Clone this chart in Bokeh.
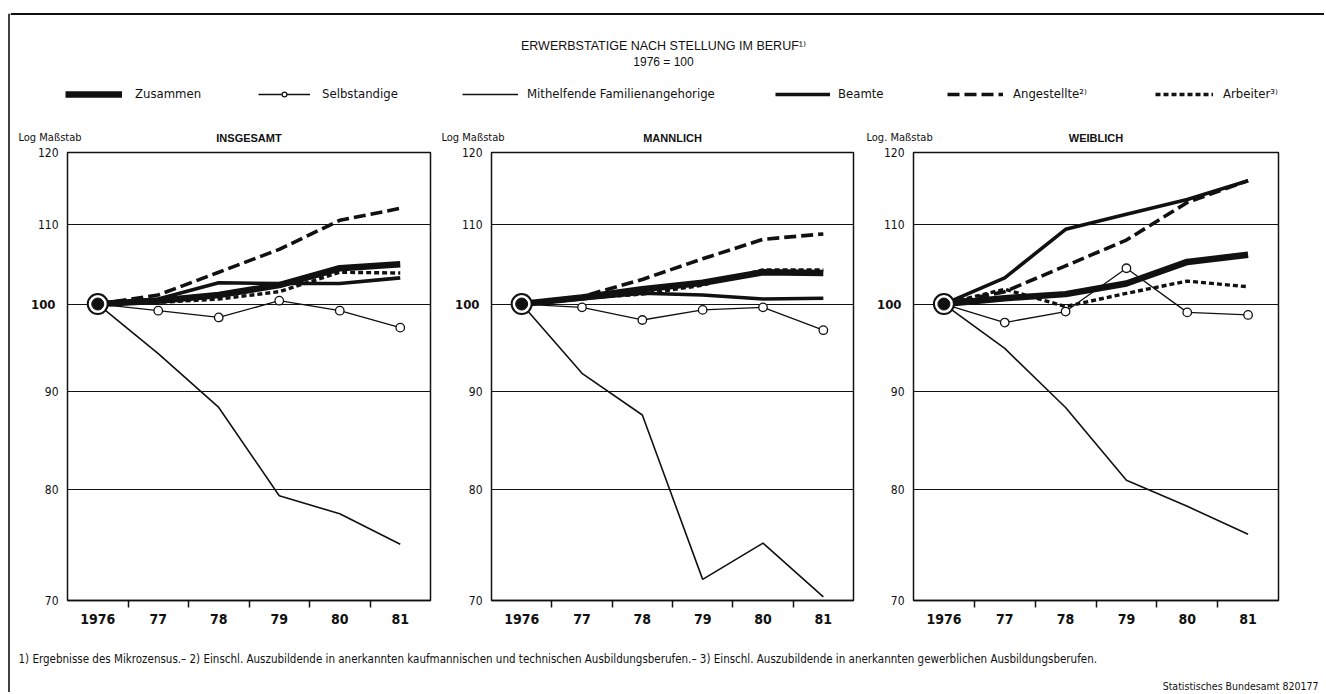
from bokeh.plotting import figure
from bokeh.models import FixedTicker, Label, Legend, LegendItem, Range1d, Span, LinearAxis, Spacer
from bokeh.layouts import column, row
from bokeh.embed import file_html
from bokeh.resources import INLINE

# ---------------- data ----------------
years = [1976, 1977, 1978, 1979, 1980, 1981]
year_labels = ["1976", "77", "78", "79", "80", "81"]
y_ticks = [70, 80, 90, 100, 110, 120]
grid_values = [80, 90, 100, 110]

series_names = ["Zusammen", "Selbstandige", "Mithelfende Familienangehorige",
                "Beamte", "Angestellte²⁾", "Arbeiter³⁾"]
panel_titles = ["INSGESAMT", "MANNLICH", "WEIBLICH"]
scale_labels = ["Log Maßstab", "Log  Maßstab", "Log. Maßstab"]

insg_zusammen = [100, 100.4, 101.1, 102.3, 104.4, 104.9]
insg_selbst = [100, 99.2, 98.4, 100.4, 99.2, 97.2]
insg_mithelf = [100, 94.2, 88.3, 79.4, 77.7, 74.9]
insg_beamte = [100, 100.6, 102.6, 102.5, 102.5, 103.2]
insg_angest = [100, 101.1, 103.9, 106.8, 110.6, 112.2]
insg_arbeit = [100, 100.2, 100.6, 101.5, 103.9, 103.8]

mann_zusammen = [100, 100.8, 101.8, 102.6, 103.9, 103.8]
mann_selbst = [100, 99.6, 98.1, 99.3, 99.6, 96.9]
mann_mithelf = [100, 92.0, 87.5, 71.8, 75.0, 70.3]
mann_beamte = [100, 100.6, 101.3, 101.1, 100.6, 100.7]
mann_angest = [100, 100.9, 103.0, 105.6, 108.1, 108.8]
mann_arbeit = [100, 100.7, 101.2, 102.3, 104.2, 104.2]

weib_zusammen = [100, 100.7, 101.2, 102.5, 105.2, 106.1]
weib_selbst = [100, 97.8, 99.1, 104.4, 99.0, 98.7]
weib_mithelf = [100, 94.8, 88.3, 80.9, 78.4, 75.8]
weib_beamte = [100, 103.2, 109.4, 111.4, 113.4, 116.0]
weib_angest = [100, 101.5, 104.7, 108.0, 113.0, 116.0]
weib_arbeit = [100, 101.8, 99.7, 101.3, 102.8, 102.1]

title_text = "ERWERBSTATIGE NACH STELLUNG IM BERUF¹⁾"
subtitle_text = "1976 = 100"
footnote_text = ("1) Ergebnisse des Mikrozensus.– 2) Einschl. Auszubildende in anerkannten "
                 "kaufmannischen und technischen Ausbildungsberufen.– 3) Einschl. Auszubildende "
                 "in anerkannten gewerblichen Ausbildungsberufen.")
source_text = "Statistisches Bundesamt 820177"

# ---------------- styles / geometry ----------------
NARROW = "Liberation Sans Narrow, DejaVu Sans Condensed, Liberation Sans, sans-serif"
WIDE = "Liberation Sans, DejaVu Sans, sans-serif"
BLACK = "#111111"
NAN = float("nan")

styles = {
    "Zusammen": dict(line_width=6.5, line_dash="solid"),
    "Selbstandige": dict(line_width=1.3, line_dash="solid"),
    "Mithelfende": dict(line_width=1.6, line_dash="solid"),
    "Beamte": dict(line_width=3.6, line_dash="solid"),
    "Angestellte": dict(line_width=3.6, line_dash="12 5"),
    "Arbeiter": dict(line_width=3.4, line_dash="5 3"),
}

STRIP_W = 10            # left strip carrying the page's left rule
HEAD_H = 145            # header: title, legend, panel captions
FRAME_TOP = 7           # space above each panel frame
FRAME_BOTTOM = 32
PANEL_H = 487
FOOT_H = 60
TOTAL_W = 1314

X_RANGE = (1975.5, 1981.5)
panel_widths = [430, 424, 454]
panel_left = [57, 51, 49]
panel_right = [10, 11, 40]
scale_label_shift = [49, 50, 47]


def make_panel(zus, selb, mith, beam, ange, arbe, width, left, right):
    p = figure(width=width, height=PANEL_H,
               x_range=Range1d(*X_RANGE), y_range=Range1d(70, 120),
               y_axis_type="log", output_backend="svg", toolbar_location=None,
               min_border_left=left, min_border_right=right,
               min_border_top=FRAME_TOP, min_border_bottom=FRAME_BOTTOM)
    p.outline_line_color = BLACK
    p.outline_line_width = 1.5
    p.background_fill_color = "white"
    p.border_fill_color = "white"

    p.xgrid.visible = False
    p.ygrid.ticker = FixedTicker(ticks=grid_values)
    p.ygrid.grid_line_color = BLACK
    p.ygrid.grid_line_width = 1.2

    xa = p.xaxis[0]
    xa.ticker = FixedTicker(ticks=years, minor_ticks=[y + 0.5 for y in years[:-1]])
    xa.major_label_overrides = {y: l for y, l in zip(years, year_labels)}
    xa.major_tick_in = 0
    xa.major_tick_out = 0
    xa.minor_tick_in = 0
    xa.minor_tick_out = 7
    xa.minor_tick_line_width = 1.5
    xa.minor_tick_line_color = BLACK
    xa.axis_line_color = BLACK
    xa.axis_line_width = 1.5
    xa.major_label_standoff = 6
    xa.major_label_text_font = NARROW
    xa.major_label_text_font_style = "bold"
    xa.major_label_text_font_size = "14px"
    xa.major_label_text_color = BLACK

    ya = p.yaxis[0]
    ya.ticker = FixedTicker(ticks=y_ticks)
    ya.major_label_overrides = {v: ("" if v == 100 else str(v)) for v in y_ticks}
    ya.major_tick_in = 0
    ya.major_tick_out = 0
    ya.minor_tick_in = 0
    ya.minor_tick_out = 0
    ya.axis_line_color = None
    ya.major_label_standoff = 9
    ya.major_label_text_font = NARROW
    ya.major_label_text_font_size = "12px"
    ya.major_label_text_color = BLACK

    # bold "100" on a second left axis, pulled back next to the frame
    ax100 = LinearAxis(ticker=FixedTicker(ticks=[100]), major_label_overrides={100: "100"})
    ax100.major_tick_in = 0
    ax100.major_tick_out = 0
    ax100.minor_tick_in = 0
    ax100.minor_tick_out = 0
    ax100.axis_line_color = None
    ax100.major_label_standoff = -21
    ax100.major_label_text_font = NARROW
    ax100.major_label_text_font_size = "13px"
    ax100.major_label_text_font_style = "bold"
    ax100.major_label_text_color = BLACK
    p.add_layout(ax100, "left")

    p.line(years, mith, line_color=BLACK, **styles["Mithelfende"])
    p.line(years, selb, line_color=BLACK, **styles["Selbstandige"])
    p.scatter(years, selb, size=8.5, marker="circle", fill_color="white",
              line_color=BLACK, line_width=1.3)
    p.line(years, arbe, line_color=BLACK, **styles["Arbeiter"])
    p.line(years, ange, line_color=BLACK, **styles["Angestellte"])
    p.line(years, beam, line_color=BLACK, **styles["Beamte"])
    p.line(years, zus, line_color=BLACK, line_join="round", **styles["Zusammen"])
    p.scatter(years[:1], zus[:1], size=20, marker="circle", fill_color="white",
              line_color=BLACK, line_width=2)
    p.scatter(years[:1], zus[:1], size=12, marker="circle", fill_color=BLACK,
              line_color=BLACK)
    return p


p1 = make_panel(insg_zusammen, insg_selbst, insg_mithelf, insg_beamte, insg_angest,
                insg_arbeit, panel_widths[0], panel_left[0], panel_right[0])
p2 = make_panel(mann_zusammen, mann_selbst, mann_mithelf, mann_beamte, mann_angest,
                mann_arbeit, panel_widths[1], panel_left[1], panel_right[1])
p3 = make_panel(weib_zusammen, weib_selbst, weib_mithelf, weib_beamte, weib_angest,
                weib_arbeit, panel_widths[2], panel_left[2], panel_right[2])

# ---------------- header (rule, title, legend, panel captions) ----------------
head = figure(width=TOTAL_W, height=HEAD_H, x_range=Range1d(0, TOTAL_W),
              y_range=Range1d(HEAD_H, 0), output_backend="svg", toolbar_location=None,
              min_border=0, x_axis_location=None, y_axis_location=None)
head.grid.visible = False
head.outline_line_color = None
head.border_fill_color = "white"
head.background_fill_color = "white"
head.add_layout(Span(location=13.5, dimension="width", line_color=BLACK, line_width=2))

head.add_layout(Label(x=653, y=45, text=title_text, text_align="center",
                      text_baseline="middle", text_font=WIDE, text_font_size="12.5px",
                      text_color=BLACK))
head.add_layout(Label(x=653, y=61, text=subtitle_text, text_align="center",
                      text_baseline="middle", text_font=WIDE, text_font_size="12px",
                      text_color=BLACK))

# panel captions, positioned from the panel geometry
x0 = 0
for i in range(3):
    f_left = x0 + panel_left[i]
    f_right = x0 + panel_widths[i] - panel_right[i]
    head.add_layout(Label(x=(f_left + f_right) / 2, y=137, text=panel_titles[i],
                          text_align="center", text_baseline="middle", text_font=WIDE,
                          text_font_size="11px", text_font_style="bold", text_color=BLACK))
    head.add_layout(Label(x=f_left - scale_label_shift[i], y=137, text=scale_labels[i],
                          text_align="left", text_baseline="middle", text_font=NARROW,
                          text_font_size="11px", text_color=BLACK))
    x0 += panel_widths[i]

r_zus = head.line([NAN], [NAN], line_color=BLACK, **styles["Zusammen"])
r_sel = head.line([NAN], [NAN], line_color=BLACK, **styles["Selbstandige"])
r_sel_m = head.scatter([NAN], [NAN], size=7, marker="circle", fill_color="white",
                       line_color=BLACK, line_width=1.2)
r_mit = head.line([NAN], [NAN], line_color=BLACK, **styles["Mithelfende"])
r_bea = head.line([NAN], [NAN], line_color=BLACK, **styles["Beamte"])
r_ang = head.line([NAN], [NAN], line_color=BLACK, **styles["Angestellte"])
r_arb = head.line([NAN], [NAN], line_color=BLACK, **styles["Arbeiter"])

legend_specs = [
    (series_names[0], [r_zus], 55, 57, 13),
    (series_names[1], [r_sel, r_sel_m], 248, 52, 12),
    (series_names[2], [r_mit], 452, 56, 9),
    (series_names[3], [r_bea], 765, 55, 8),
    (series_names[4], [r_ang], 937, 56, 10),
    (series_names[5], [r_arb], 1145, 58, 10),
]
for label, rends, lx, gw, standoff in legend_specs:
    lg = Legend(items=[LegendItem(label=label, renderers=rends)], location=(lx, 44),
                orientation="horizontal", glyph_width=gw, glyph_height=12,
                label_standoff=standoff, label_height=14, padding=0, margin=0,
                spacing=0, border_line_color=None, background_fill_alpha=0,
                label_text_font=NARROW, label_text_font_size="13px",
                label_text_color=BLACK)
    head.add_layout(lg)

# ---------------- footer ----------------
foot = figure(width=TOTAL_W, height=FOOT_H, x_range=Range1d(0, TOTAL_W),
              y_range=Range1d(FOOT_H, 0), output_backend="svg", toolbar_location=None,
              min_border=0, x_axis_location=None, y_axis_location=None)
foot.grid.visible = False
foot.outline_line_color = None
foot.add_layout(Label(x=8, y=26, text=footnote_text, text_align="left",
                      text_baseline="middle", text_font=NARROW, text_font_size="11.5px",
                      text_color=BLACK))
foot.add_layout(Label(x=1308, y=53, text=source_text, text_align="right",
                      text_baseline="middle", text_font=NARROW, text_font_size="10.5px",
                      text_color=BLACK))

# ---------------- left rule ----------------
strip_h = HEAD_H + PANEL_H + FOOT_H - 13
strip = figure(width=STRIP_W, height=strip_h, x_range=Range1d(0, STRIP_W),
               y_range=Range1d(0, 1), output_backend="svg", toolbar_location=None,
               min_border=0, x_axis_location=None, y_axis_location=None)
strip.grid.visible = False
strip.outline_line_color = None
strip.add_layout(Span(location=8.5, dimension="height", line_color=BLACK, line_width=1.6))

layout = row(column(Spacer(width=STRIP_W, height=13), strip),
             column(head, row(p1, p2, p3), foot))

open("out.html", "w").write(file_html(layout, INLINE))
